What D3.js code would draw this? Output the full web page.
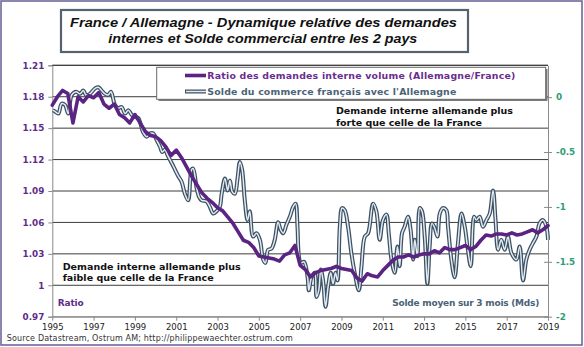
<!DOCTYPE html>
<html>
<head>
<meta charset="utf-8">
<script src="https://cdn.jsdelivr.net/npm/d3@7"></script>
<style>
  html, body { margin: 0; padding: 0; background: #ffffff; }
  svg { display: block; }
</style>
</head>
<body>
<svg id="chart" width="584" height="347"></svg>
<script>
// ---------------- DATA ----------------
const titleLines = ["France / Allemagne  - Dynamique relative des demandes",
                    "internes et Solde commercial entre les 2 pays"];
const seriesNames = ["Ratio des demandes interne volume (Allemagne/France)",
                     "Solde du commerce français avec l'Allemagne"];
const xTicks = [1995,1997,1999,2001,2003,2005,2007,2009,2011,2013,2015,2017,2019];
const xTickLabels = ["1995","1997","1999","2001","2003","2005","2007","2009","2011","2013","2015","2017","2019"];
const leftTicks = [0.97,1.00,1.03,1.06,1.09,1.12,1.15,1.18,1.21];
const leftTickLabels = ["0.97","1","1.03","1.06","1.09","1.12","1.15","1.18","1.21"];
const rightTicks = [0,-0.5,-1,-1.5,-2];
const rightTickLabels = ["0","-0.5","-1","-1.5","-2"];

// Ratio (quarterly from 1995 Q1 to 2019 Q1)
const ratioStart = 1995;
const ratioValues = [
 1.172,1.180,1.186,1.183,1.155,1.180,1.175,1.181,1.179,1.184,
 1.173,1.169,1.173,1.163,1.160,1.155,1.163,1.155,1.147,1.143,
 1.142,1.138,1.132,1.124,1.129,1.122,1.113,1.104,1.096,1.088,
 1.083,1.079,1.074,1.071,1.065,1.059,1.051,1.043,1.041,1.036,
 1.028,1.027,1.026,1.025,1.023,1.029,1.031,1.038,1.019,1.015,
 1.008,1.012,1.014,1.015,1.016,1.018,1.016,1.015,1.014,1.007,
 1.004,1.011,1.009,1.008,1.014,1.019,1.024,1.027,1.027,1.029,
 1.027,1.029,1.030,1.030,1.033,1.031,1.036,1.034,1.034,1.036,
 1.038,1.034,1.037,1.043,1.048,1.047,1.049,1.049,1.048,1.050,
 1.048,1.049,1.051,1.053,1.050,1.053,1.057];

// Solde commercial (3-month average, Mds) read at dates (decimal years)
const soldeYears = [
 1995.03,1995.13,1995.29,1995.45,1995.61,1995.77,1995.94,1996.15,1996.34,1996.50,
 1996.63,1996.82,1997.07,1997.23,1997.39,1997.55,1997.71,1997.84,1998.03,1998.19,
 1998.36,1998.52,1998.68,1998.84,1999.00,1999.16,1999.40,1999.57,1999.73,1999.89,
 2000.05,2000.21,2000.32,2000.45,2000.61,2000.78,2000.94,2001.10,2001.26,2001.42,
 2001.58,2001.74,2001.82,2001.99,2002.11,2002.23,2002.47,2002.63,2002.79,2002.95,
 2003.11,2003.20,2003.36,2003.49,2003.60,2003.71,2003.84,2003.97,2004.08,2004.19,
 2004.32,2004.45,2004.56,2004.72,2004.89,2005.05,2005.21,2005.32,2005.45,2005.61,
 2005.77,2005.93,2006.06,2006.18,2006.34,2006.50,2006.66,2006.78,2006.87,2006.94,
 2007.03,2007.19,2007.36,2007.42,2007.55,2007.71,2007.79,2007.90,2008.00,2008.11,
 2008.23,2008.35,2008.48,2008.59,2008.71,2008.81,2008.92,2009.03,2009.16,2009.32,
 2009.48,2009.64,2009.84,2009.97,2010.13,2010.29,2010.53,2010.69,2010.85,2011.01,
 2011.18,2011.29,2011.42,2011.58,2011.71,2011.82,2011.93,2012.06,2012.22,2012.35,
 2012.47,2012.55,2012.68,2012.79,2012.90,2013.03,2013.16,2013.27,2013.38,2013.51,
 2013.65,2013.76,2013.92,2014.08,2014.16,2014.32,2014.48,2014.64,2014.81,2014.97,
 2015.10,2015.26,2015.42,2015.53,2015.69,2015.85,2016.02,2016.18,2016.34,2016.46,
 2016.58,2016.74,2016.90,2017.06,2017.23,2017.47,2017.63,2017.79,2017.95,2018.11,
 2018.27,2018.44,2018.59,2018.75,2018.92,2019.00];
const soldeValues = [
 -0.12,-0.13,-0.15,-0.06,-0.07,-0.15,0.02,0.05,0.03,0.06,
 0.02,0.03,0.08,0.09,0.06,0.03,0.02,0.05,-0.07,-0.10,
 -0.09,-0.15,-0.12,-0.16,-0.18,-0.19,-0.32,-0.36,-0.33,-0.33,
 -0.39,-0.45,-0.50,-0.48,-0.54,-0.60,-0.66,-0.72,-0.77,-0.88,
 -0.94,-0.66,-0.65,-0.83,-0.91,-0.94,-0.95,-1.00,-1.06,-1.04,
 -1.00,-0.88,-0.74,-0.85,-0.76,-0.86,-0.88,-0.74,-0.59,-0.66,
 -0.94,-1.12,-1.04,-1.27,-1.24,-1.30,-1.48,-1.51,-1.39,-1.38,
 -1.30,-1.14,-1.21,-1.24,-1.16,-1.09,-1.00,-0.97,-1.18,-1.45,
 -1.51,-1.50,-1.64,-1.76,-1.64,-1.60,-1.82,-1.76,-1.57,-1.67,
 -1.91,-1.73,-1.60,-1.70,-1.60,-1.67,-1.18,-1.01,-1.03,-1.18,
 -1.42,-1.60,-1.76,-1.54,-1.27,-1.24,-0.97,-1.04,-1.30,-1.12,
 -1.07,-1.24,-1.48,-1.60,-1.36,-1.54,-1.24,-1.18,-1.09,-1.21,
 -1.48,-1.30,-1.45,-1.01,-1.04,-1.27,-1.70,-1.36,-1.15,-1.19,
 -1.27,-1.06,-1.01,-1.03,-1.18,-1.48,-1.64,-1.33,-1.06,-1.18,
 -1.36,-1.54,-1.09,-1.12,-1.09,-1.18,-1.12,-1.06,-0.85,-1.12,
 -1.39,-1.30,-1.39,-1.27,-1.42,-1.48,-1.36,-1.67,-1.48,-1.39,
 -1.33,-1.27,-1.15,-1.12,-1.18,-1.30];

const annotHigh = ["Demande interne allemande plus", "forte que celle de la France"];
const annotLow  = ["Demande interne allemande plus", "faible que celle de la France"];
const leftAxisTitle = "Ratio";
const rightAxisTitle = "Solde moyen sur 3 mois (Mds)";
const sourceText = "Source Datastream, Ostrum AM; http://philippewaechter.ostrum.com";

// ---------------- DRAW ----------------
const svg = d3.select("#chart");
const FONT = "'DejaVu Sans', Verdana, sans-serif";
const PURPLE = "#5b2483";
const PURPLE_TXT = "#5e2d8a";
const TEAL = "#2f9c78";
const SLATE = "#3b5165";
const SLATE_TXT = "#4a6378";

const L = 52.3, R = 548, T = 65.3, B = 316.7;
const x = d3.scaleLinear().domain([1995, 2019]).range([L, R]);
const yL = d3.scaleLinear().domain([0.97, 1.21]).range([B, T]);
const yR = d3.scaleLinear().domain([-2, 0.29]).range([B, T]);

// outer frame
svg.append("rect").attr("x", 1).attr("y", 1).attr("width", 581).attr("height", 344)
  .attr("fill", "#fff").attr("stroke", "#6d6a9c").attr("stroke-width", 1.6);

// gridlines
svg.append("g").selectAll("line").data(leftTicks).join("line")
  .attr("x1", L).attr("x2", R)
  .attr("y1", d => yL(d)).attr("y2", d => yL(d))
  .attr("stroke", d => d === 0.97 ? "#8a8a8a" : "#3c3c3c").attr("stroke-width", 1);

// left axis
const gL = svg.append("g").attr("transform", `translate(${L},0)`)
  .call(d3.axisLeft(yL).tickValues(leftTicks).tickFormat((d, i) => leftTickLabels[i]).tickSize(4).tickPadding(4));
gL.select(".domain").attr("stroke", "#8a8a8a");
gL.selectAll(".tick line").attr("stroke", "#8a8a8a");
gL.selectAll("text").attr("font-family", FONT).attr("font-size", 8.8).attr("font-weight", "bold").attr("fill", PURPLE_TXT);

// right axis
const gR = svg.append("g").attr("transform", `translate(${R},0)`)
  .call(d3.axisRight(yR).tickValues(rightTicks).tickFormat((d, i) => rightTickLabels[i]).tickSizeInner(4).tickSizeOuter(0).tickPadding(4));
gR.select(".domain").attr("stroke", "#8a8a8a");
gR.selectAll(".tick line").attr("stroke", "#8a8a8a").attr("x1", -4);
gR.selectAll("text").attr("font-family", FONT).attr("font-size", 8.8).attr("font-weight", "bold").attr("fill", TEAL);

// bottom axis
const gB = svg.append("g").attr("transform", `translate(0,${B})`)
  .call(d3.axisBottom(x).tickValues(xTicks).tickFormat((d, i) => xTickLabels[i]).tickSize(4).tickSizeOuter(0).tickPadding(3));
gB.select(".domain").attr("stroke", "#8a8a8a");
gB.selectAll(".tick line").attr("stroke", "#8a8a8a");
gB.selectAll("text").attr("font-family", FONT).attr("font-size", 8.5).attr("fill", "#222");

// solde line (double stroke)
const soldeData = soldeYears.map((t, i) => ({ t, v: soldeValues[i] }));
const soldeLine = d3.line().x(d => x(d.t)).y(d => yR(d.v)).curve(d3.curveCatmullRom.alpha(0.5));
svg.append("path").datum(soldeData)
  .attr("fill", "none").attr("stroke", SLATE).attr("stroke-width", 4.0)
  .attr("stroke-linejoin", "round").attr("d", soldeLine);
svg.append("path").datum(soldeData)
  .attr("fill", "none").attr("stroke", "#e4eaef").attr("stroke-width", 1.5)
  .attr("stroke-linejoin", "round").attr("d", soldeLine);

// ratio line (on top)
const ratioData = ratioValues.map((v, i) => ({ t: ratioStart + i / 4, v }));
svg.append("path").datum(ratioData)
  .attr("fill", "none").attr("stroke", PURPLE).attr("stroke-width", 3.6)
  .attr("stroke-linejoin", "round").attr("stroke-linecap", "round")
  .attr("d", d3.line().x(d => x(d.t)).y(d => yL(d.v)));

// plot top border line
svg.append("line").attr("x1", L).attr("x2", R).attr("y1", T).attr("y2", T)
  .attr("stroke", "#3c3c3c").attr("stroke-width", 1);

// legend
const lg = svg.append("g");
lg.append("rect").attr("x", 158.5).attr("y", 69).attr("width", 389).attr("height", 32)
  .attr("fill", "#7a7a7a");
lg.append("rect").attr("x", 156.7).attr("y", 67.3).attr("width", 389).attr("height", 32)
  .attr("fill", "#fff").attr("stroke", "#6a6a6a").attr("stroke-width", 1);
lg.append("line").attr("x1", 185).attr("x2", 206).attr("y1", 75.5).attr("y2", 75.5)
  .attr("stroke", PURPLE).attr("stroke-width", 3.6);
lg.append("line").attr("x1", 185).attr("x2", 206).attr("y1", 91.5).attr("y2", 91.5)
  .attr("stroke", SLATE).attr("stroke-width", 4.0);
lg.append("line").attr("x1", 186).attr("x2", 206).attr("y1", 91.5).attr("y2", 91.5)
  .attr("stroke", "#e4eaef").attr("stroke-width", 1.5);
lg.append("text").attr("x", 207.3).attr("y", 79).text(seriesNames[0])
  .attr("font-family", FONT).attr("font-size", 9.4).attr("font-weight", "bold").attr("fill", "#6a2d8f")
  .attr("textLength", 308).attr("lengthAdjust", "spacing");
lg.append("text").attr("x", 207.3).attr("y", 95).text(seriesNames[1])
  .attr("font-family", FONT).attr("font-size", 9.4).attr("font-weight", "bold").attr("fill", SLATE_TXT)
  .attr("textLength", 249).attr("lengthAdjust", "spacing");

// annotations
function txt(s, xx, yy, size, color, len) {
  const t = svg.append("text").attr("x", xx).attr("y", yy).text(s)
    .attr("font-family", FONT).attr("font-size", size).attr("font-weight", "bold").attr("fill", color);
  if (len) t.attr("textLength", len).attr("lengthAdjust", "spacing");
  return t;
}
txt(annotHigh[0], 336, 113.5, 9.5, "#111", 177);
txt(annotHigh[1], 336, 126, 9.5, "#111", 146);
txt(annotLow[0], 62.7, 269.5, 9.5, "#111", 178);
txt(annotLow[1], 62.7, 281.3, 9.5, "#111", 151);
txt(leftAxisTitle, 57.7, 306, 9, PURPLE_TXT, 26);
txt(rightAxisTitle, 392.3, 306, 9, SLATE_TXT, 147);

// source
svg.append("text").attr("x", 6.7).attr("y", 340.5).text(sourceText)
  .attr("font-family", FONT).attr("font-size", 8).attr("fill", "#333")
  .attr("textLength", 286).attr("lengthAdjust", "spacing");

// title box
svg.append("rect").attr("x", 61).attr("y", 10).attr("width", 407).attr("height", 42)
  .attr("fill", "#fff").attr("stroke", "#56636f").attr("stroke-width", 2.2);
svg.append("text").attr("x", 70).attr("y", 27.2).text(titleLines[0])
  .attr("font-family", "'Liberation Sans', Arial, sans-serif").attr("font-size", 13.2)
  .attr("font-weight", "bold").attr("font-style", "italic").attr("fill", "#111")
  .attr("textLength", 387).attr("lengthAdjust", "spacingAndGlyphs");
svg.append("text").attr("x", 108.3).attr("y", 42.6).text(titleLines[1])
  .attr("font-family", "'Liberation Sans', Arial, sans-serif").attr("font-size", 13.2)
  .attr("font-weight", "bold").attr("font-style", "italic").attr("fill", "#111")
  .attr("textLength", 309).attr("lengthAdjust", "spacingAndGlyphs");
</script>
</body>
</html>
